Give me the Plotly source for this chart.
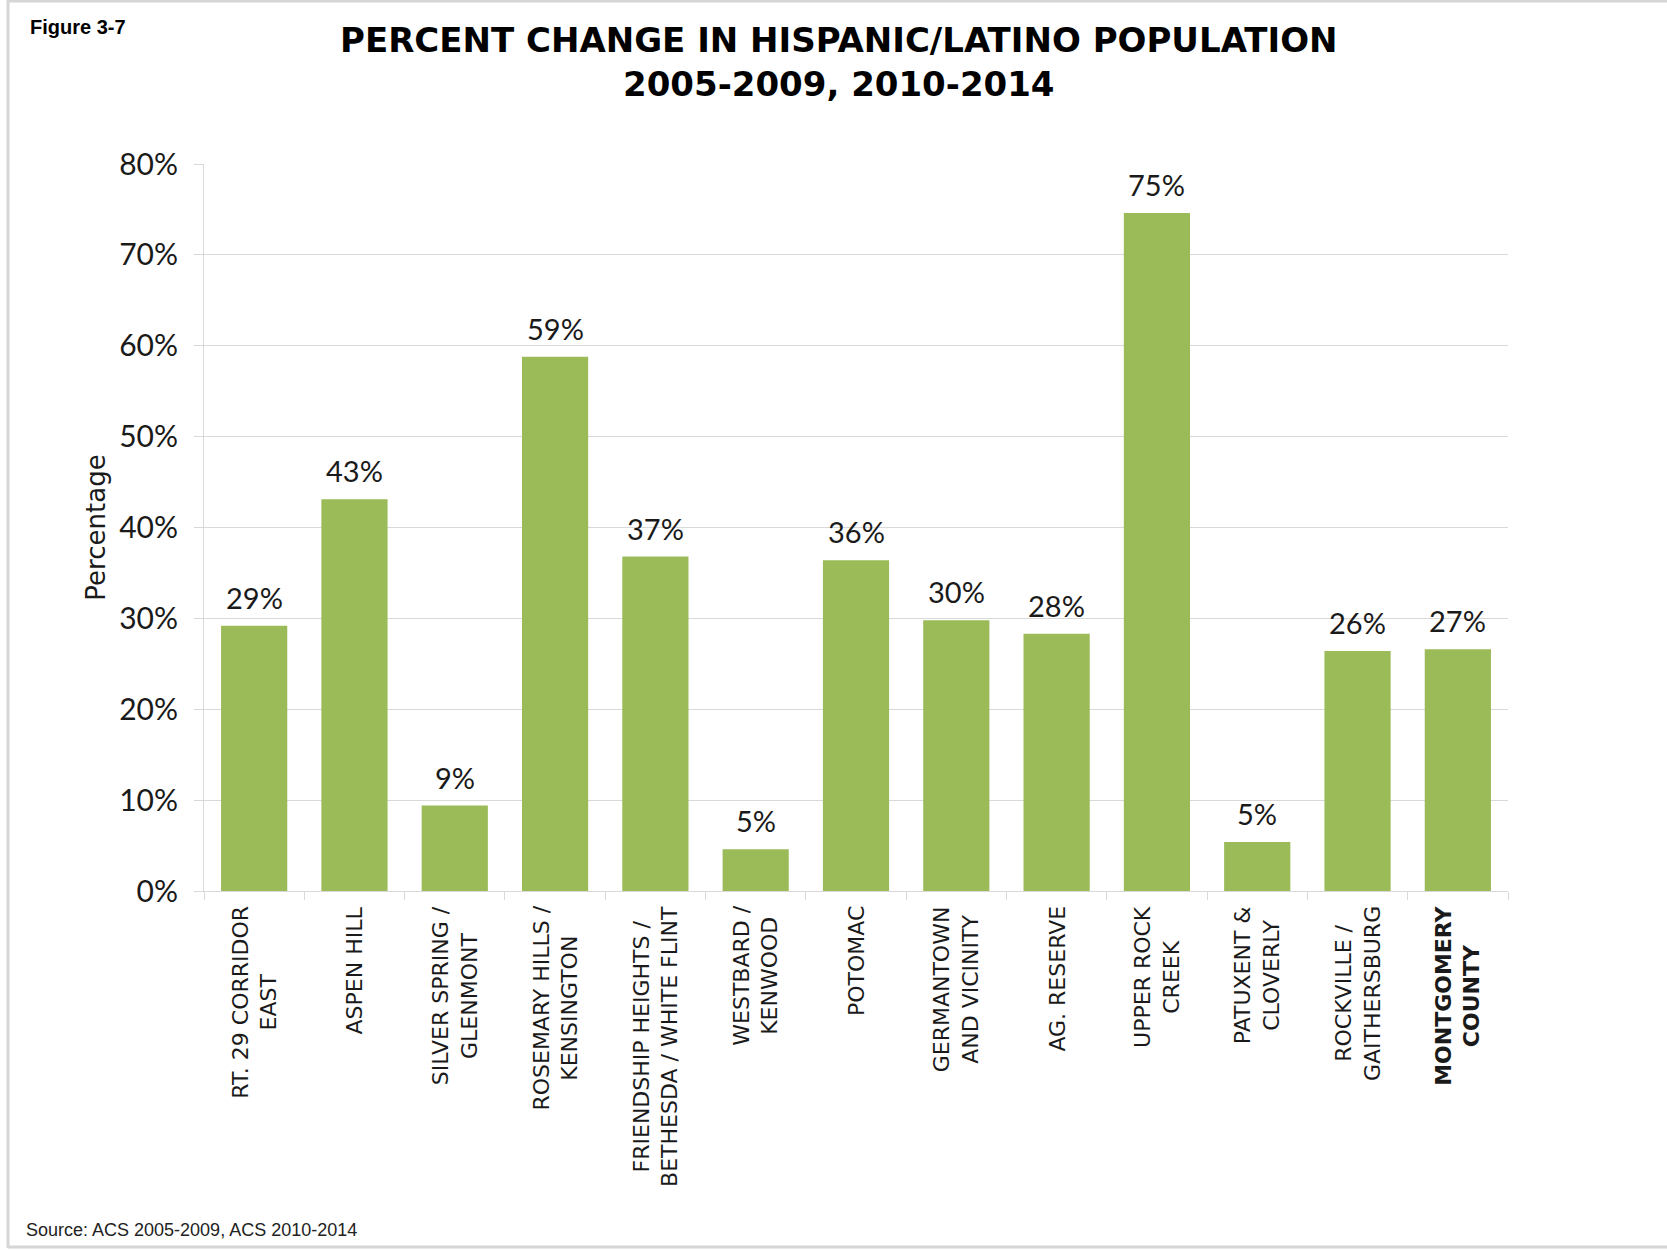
import plotly.graph_objects as go

# Planning areas (category keys) and their two-line axis labels
areas = [
    "Rt. 29 Corridor East", "Aspen Hill", "Silver Spring / Glenmont",
    "Rosemary Hills / Kensington", "Friendship Heights / Bethesda / White Flint",
    "Westbard / Kenwood", "Potomac", "Germantown and Vicinity", "Ag. Reserve",
    "Upper Rock Creek", "Patuxent & Cloverly", "Rockville / Gaithersburg",
    "Montgomery County",
]
area_labels = [
    "RT. 29 CORRIDOR<br>EAST", "ASPEN HILL", "SILVER SPRING /<br>GLENMONT",
    "ROSEMARY HILLS /<br>KENSINGTON", "FRIENDSHIP HEIGHTS /<br>BETHESDA / WHITE FLINT",
    "WESTBARD /<br>KENWOOD", "POTOMAC", "GERMANTOWN<br>AND VICINITY", "AG. RESERVE",
    "UPPER ROCK<br>CREEK", "PATUXENT &amp;<br>CLOVERLY", "ROCKVILLE /<br>GAITHERSBURG",
    "<b>MONTGOMERY</b><br><b>COUNTY</b>",
]

# Percent change in Hispanic/Latino population, ACS 2005-2009 to ACS 2010-2014
pct_change = [29.2, 43.1, 9.4, 58.8, 36.8, 4.6, 36.4, 29.8, 28.3, 74.6, 5.4, 26.4, 26.6]

y_ticks = [0, 10, 20, 30, 40, 50, 60, 70, 80]
y_tick_labels = ["0%", "10%", "20%", "30%", "40%", "50%", "60%", "70%", "80%"]

# Page and plot-area geometry (pixels)
W, H = 1667, 1251
ML, MR, MT, MB = 204, 159, 164, 360
PW, PH = W - ML - MR, H - MT - MB

GRID = "#d9d9d9"
BAR = "#9bbb59"
INK = "#1a1a1a"
NUM_FONT = "Lato"
LBL_FONT = "DejaVu Sans"


def px_x(px):
    return (px - ML) / PW


def px_y(py):
    return (H - MB - py) / PH


fig = go.Figure(
    go.Bar(
        x=areas,
        y=pct_change,
        marker=dict(color=BAR, line=dict(width=0)),
        hoverinfo="x+y",
    )
)

annotations = []

# Chart title
annotations.append(dict(
    x=px_x(839), y=px_y(62), xref="paper", yref="paper",
    text="<b>PERCENT CHANGE IN HISPANIC/LATINO POPULATION<br>2005-2009, 2010-2014</b>",
    showarrow=False, align="center", xanchor="center", yanchor="middle",
    font=dict(family="DejaVu Sans", size=34, color="#000000"),
))

# Value labels above each bar
for a, v in zip(areas, pct_change):
    annotations.append(dict(
        x=a, y=v, xref="x", yref="y",
        text=f"{round(v)}%", showarrow=False,
        xanchor="center", yanchor="bottom", yshift=9,
        font=dict(family=NUM_FONT, size=29, color=INK),
    ))

# Rotated category labels under the axis
for a, lbl in zip(areas, area_labels):
    annotations.append(dict(
        x=a, y=0, xref="x", yref="paper",
        text=lbl, showarrow=False, textangle=-90, align="center",
        xanchor="center", yanchor="top", yshift=-13,
        font=dict(family=LBL_FONT, size=22, color=INK),
    ))

# Figure number and source note
annotations.append(dict(
    x=px_x(28), y=px_y(14), xref="paper", yref="paper",
    text="<b>Figure 3-7</b>", showarrow=False,
    xanchor="left", yanchor="top",
    font=dict(family="Liberation Sans", size=20, color="#000000"),
))
annotations.append(dict(
    x=px_x(24), y=px_y(1230), xref="paper", yref="paper",
    text="Source: ACS 2005-2009, ACS 2010-2014", showarrow=False,
    xanchor="left", yanchor="middle",
    font=dict(family="Liberation Sans", size=18, color="#222222"),
))

# Thin grey frame around the figure
frame = dict(type="line", xref="paper", yref="paper",
             line=dict(color="#d6d6d6", width=3), layer="above")
shapes = [
    dict(frame, x0=px_x(8), x1=px_x(W), y0=px_y(1), y1=px_y(1)),
    dict(frame, x0=px_x(8), x1=px_x(8), y0=px_y(0), y1=px_y(1248)),
    dict(frame, x0=px_x(8), x1=px_x(W), y0=px_y(1247), y1=px_y(1247)),
]

fig.update_layout(
    width=W, height=H,
    margin=dict(l=ML, r=MR, t=MT, b=MB, pad=0),
    paper_bgcolor="white", plot_bgcolor="white",
    bargap=0.34,
    showlegend=False,
    xaxis=dict(
        type="category",
        showticklabels=False,
        showline=True, linecolor=GRID, linewidth=1,
        ticks="outside", tickson="boundaries", ticklen=8, tickcolor=GRID,
        showgrid=False, zeroline=False, fixedrange=True,
    ),
    yaxis=dict(
        range=[0, 80],
        tickmode="array", tickvals=y_ticks, ticktext=y_tick_labels,
        tickfont=dict(family=NUM_FONT, size=30, color=INK),
        ticks="outside", ticklen=9, tickcolor=GRID,
        ticklabelstandoff=10,
        showgrid=True, gridcolor=GRID, gridwidth=1,
        showline=True, linecolor=GRID, linewidth=1,
        zeroline=False, fixedrange=True,
        title=dict(text="Percentage", standoff=6,
                   font=dict(family=LBL_FONT, size=26, color=INK)),
    ),
    annotations=annotations,
    shapes=shapes,
)

fig.write_html("out.html")
